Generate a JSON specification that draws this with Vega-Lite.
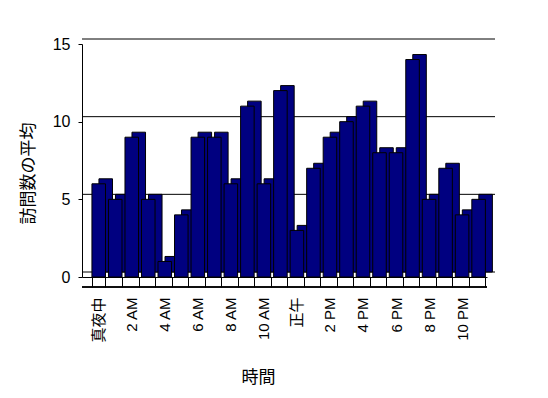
{
  "$schema": "https://vega.github.io/schema/vega-lite/v6.json",
  "width": 405,
  "height": 233,
  "autosize": "none",
  "padding": {"left": 82, "top": 44, "right": 61, "bottom": 121},
  "background": "white",
  "config": {
    "view": {"stroke": null},
    "font": "Liberation Sans, Noto Sans CJK JP",
    "axisY": {
      "grid": false,
      "tickSize": 4,
      "labelPadding": 8,
      "domainColor": "black",
      "tickColor": "black",
      "labelColor": "black",
      "labelFontSize": 16,
      "titleFontSize": 17,
      "titleFontWeight": "normal",
      "titleColor": "black",
      "titleX": -54,
      "titleY": 129,
      "titleBaseline": "middle",
      "titleAlign": "center"
    },
    "axisX": {
      "labelAngle": -90,
      "domainColor": "black",
      "tickColor": "black",
      "tickSize": 10,
      "tickBand": "extent",
      "labelPadding": 10,
      "labelFontSize": 15,
      "labelColor": "black",
      "titleFontSize": 17,
      "titleFontWeight": "normal",
      "titleColor": "black",
      "titleX": 176,
      "titleY": 100,
      "titleBaseline": "middle",
      "titleAlign": "center"
    }
  },
  "datasets": {
    "visits": [
      {"hour": 0, "visits": 6}, {"hour": 1, "visits": 5}, {"hour": 2, "visits": 9}, {"hour": 3, "visits": 5},
      {"hour": 4, "visits": 1}, {"hour": 5, "visits": 4}, {"hour": 6, "visits": 9}, {"hour": 7, "visits": 9},
      {"hour": 8, "visits": 6}, {"hour": 9, "visits": 11}, {"hour": 10, "visits": 6}, {"hour": 11, "visits": 12},
      {"hour": 12, "visits": 3}, {"hour": 13, "visits": 7}, {"hour": 14, "visits": 9}, {"hour": 15, "visits": 10},
      {"hour": 16, "visits": 11}, {"hour": 17, "visits": 8}, {"hour": 18, "visits": 8}, {"hour": 19, "visits": 14},
      {"hour": 20, "visits": 5}, {"hour": 21, "visits": 7}, {"hour": 22, "visits": 4}, {"hour": 23, "visits": 5}
    ],
    "grid": [{"v": 0}, {"v": 5}, {"v": 10}, {"v": 15}]
  },
  "layer": [
    {
      "data": {"name": "grid"},
      "mark": {"type": "rule", "color": "black", "strokeWidth": 1, "xOffset": 8, "yOffset": -5},
      "encoding": {
        "y": {"field": "v", "type": "quantitative", "scale": {"domain": [0, 15], "nice": false}, "title": "訪問数の平均", "axis": {"values": [0, 5, 10, 15]}}
      }
    },
    {
      "data": {"name": "grid"},
      "mark": {"type": "rule", "color": "black", "strokeWidth": 1, "yOffset": 10},
      "encoding": {
        "y": {"datum": 0, "type": "quantitative", "scale": {"domain": [0, 15], "nice": false}, "title": "訪問数の平均", "axis": {"values": [0, 5, 10, 15]}}
      }
    },
    {
      "data": {"name": "visits"},
      "mark": {"type": "bar", "color": "#000080", "stroke": "black", "strokeWidth": 1, "xOffset": 7, "yOffset": -5},
      "encoding": {
        "x": {
          "field": "hour", "type": "ordinal", "sort": null, "title": "時間",
          "scale": {"paddingInner": 0.18, "paddingOuter": 0.35, "align": 0.86},
          "axis": {"labelExpr": "['真夜中','','2 AM','','4 AM','','6 AM','','8 AM','','10 AM','','正午','','2 PM','','4 PM','','6 PM','','8 PM','','10 PM',''][datum.value]"}
        },
        "y": {"field": "visits", "type": "quantitative", "scale": {"domain": [0, 15], "nice": false}, "title": "訪問数の平均", "axis": {"values": [0, 5, 10, 15]}}
      }
    },
    {
      "data": {"name": "visits"},
      "mark": {"type": "bar", "color": "#000080", "stroke": "black", "strokeWidth": 1},
      "encoding": {
        "x": {
          "field": "hour", "type": "ordinal", "sort": null, "title": "時間",
          "scale": {"paddingInner": 0.18, "paddingOuter": 0.35, "align": 0.86},
          "axis": {"labelExpr": "['真夜中','','2 AM','','4 AM','','6 AM','','8 AM','','10 AM','','正午','','2 PM','','4 PM','','6 PM','','8 PM','','10 PM',''][datum.value]"}
        },
        "y": {"field": "visits", "type": "quantitative", "scale": {"domain": [0, 15], "nice": false}, "title": "訪問数の平均", "axis": {"values": [0, 5, 10, 15]}}
      }
    }
  ]
}
